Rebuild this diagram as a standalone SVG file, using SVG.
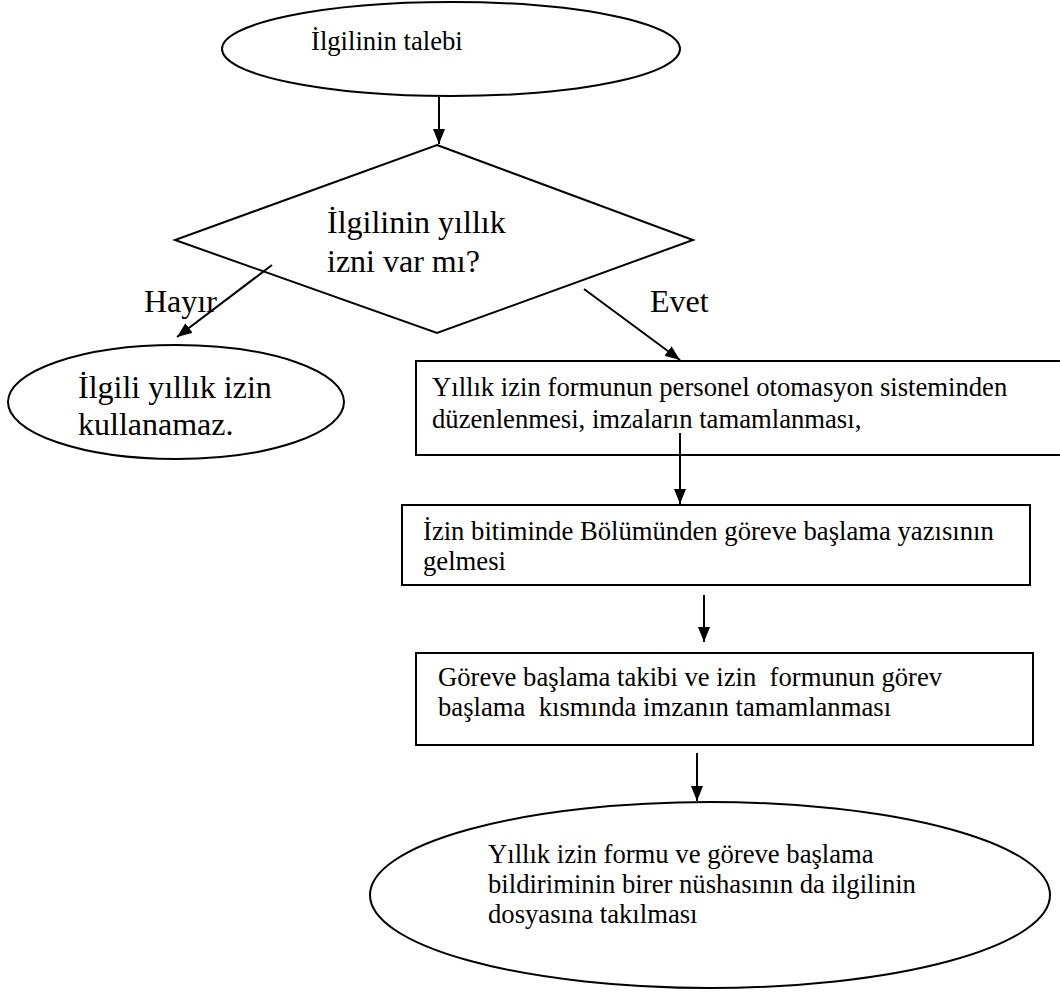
<svg xmlns="http://www.w3.org/2000/svg" width="1060" height="993" viewBox="0 0 1060 993">
<style>
.s{fill:#fff;stroke:#000;stroke-width:2}
.c{stroke:#000;stroke-width:2;fill:none;marker-end:url(#ah)}
text{font-family:"Liberation Serif","Times New Roman",serif;fill:#000}
.t20{font-size:26.67px}
.t24{font-size:32px}
</style>
<defs>
<marker id="ah" viewBox="0 0 15 12" refX="15" refY="6" markerWidth="15" markerHeight="12" markerUnits="userSpaceOnUse" orient="auto">
<path d="M0,0 L15,6 L0,12 z" fill="#000"/>
</marker>
</defs>
<rect width="1060" height="993" fill="#fff"/>
<g id="start">
<ellipse class="s" cx="451" cy="49" rx="229" ry="47"/>
<text class="t20" x="311" y="50">İlgilinin talebi</text>
</g>
<g id="decision">
<polygon class="s" points="437,145 693,240 437,333 175,240"/>
<text class="t24" x="327" y="233">İlgilinin yıllık</text>
<text class="t24" x="327" y="272">izni var mı?</text>
</g>
<g id="no-end">
<ellipse class="s" cx="176" cy="402" rx="168" ry="57"/>
<text class="t24" x="78" y="398">İlgili yıllık izin</text>
<text class="t24" x="78" y="435">kullanamaz.</text>
</g>
<g id="step1">
<rect class="s" x="416" y="361" width="650" height="94"/>
<text class="t20" x="432" y="396">Yıllık izin formunun personel otomasyon sisteminden</text>
<text class="t20" x="432" y="428">düzenlenmesi, imzaların tamamlanması,</text>
</g>
<g id="step2">
<rect class="s" x="402" y="505" width="628" height="80"/>
<text class="t20" x="423" y="540">İzin bitiminde Bölümünden göreve başlama yazısının</text>
<text class="t20" x="423" y="570">gelmesi</text>
</g>
<g id="step3">
<rect class="s" x="416" y="653" width="617" height="92"/>
<text class="t20" x="438" y="686" xml:space="preserve">Göreve başlama takibi ve izin  formunun görev</text>
<text class="t20" x="438" y="716" xml:space="preserve">başlama  kısmında imzanın tamamlanması</text>
</g>
<g id="end">
<ellipse class="s" cx="710" cy="895" rx="340" ry="93"/>
<text class="t20" x="488" y="863">Yıllık izin formu ve göreve başlama</text>
<text class="t20" x="488" y="893">bildiriminin birer nüshasının da ilgilinin</text>
<text class="t20" x="488" y="923">dosyasına takılması</text>
</g>
<g id="connectors">
<line class="c" x1="439" y1="97" x2="439" y2="144"/>
<line class="c" x1="272" y1="265" x2="177" y2="337"/>
<line class="c" x1="584" y1="289" x2="680" y2="360"/>
<line class="c" x1="680" y1="433" x2="680" y2="504"/>
<line class="c" x1="704" y1="595" x2="704" y2="642"/>
<line class="c" x1="697" y1="753" x2="697" y2="801"/>
</g>
<g id="labels">
<text class="t24" x="144" y="312">Hayır</text>
<text class="t24" x="650" y="312">Evet</text>
</g>
</svg>
